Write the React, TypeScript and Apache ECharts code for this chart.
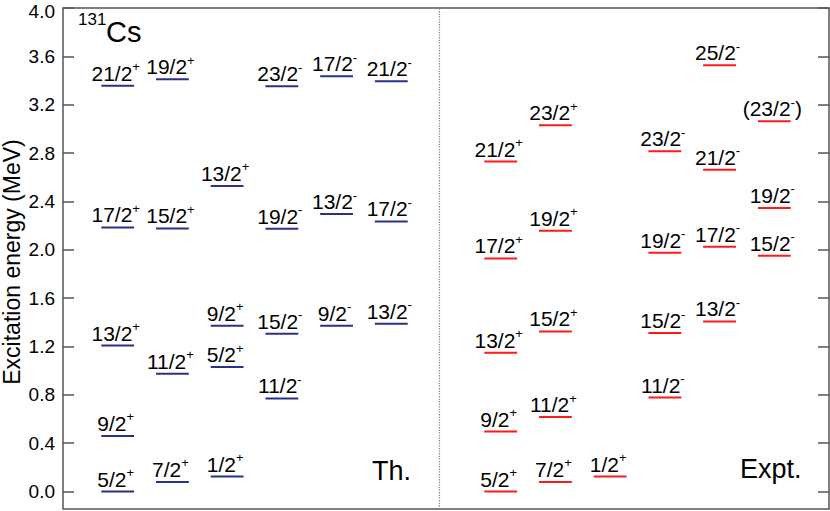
import React, { useEffect, useRef } from "react";
import * as echarts from "echarts";

const FONT = "'Liberation Sans', Arial, Helvetica, sans-serif";

// Theory (Th.) levels: column index, energy (MeV), label
const thColumn = [1, 1, 1, 1, 1, 2, 2, 2, 2, 3, 3, 3, 3, 4, 4, 4, 4, 5, 5, 5, 6, 6, 6];
const thEnergy = [0.0, 0.46, 1.208, 2.185, 3.356, 0.08, 0.974, 2.177, 3.41, 0.124, 1.03, 1.372, 2.528, 0.77, 1.305, 2.175, 3.353, 1.372, 2.296, 3.435, 1.388, 2.235, 3.394];
const thLabel = ["5/2+", "9/2+", "13/2+", "17/2+", "21/2+", "7/2+", "11/2+", "15/2+", "19/2+", "1/2+", "5/2+", "9/2+", "13/2+", "11/2-", "15/2-", "19/2-", "23/2-", "9/2-", "13/2-", "17/2-", "13/2-", "17/2-", "21/2-"];

// Experimental (Expt.) levels
const exColumn = [8, 8, 8, 8, 8, 9, 9, 9, 9, 9, 10, 11, 11, 11, 11, 12, 12, 12, 12, 13, 13, 13];
const exEnergy = [0.0, 0.497, 1.148, 1.929, 2.73, 0.08, 0.616, 1.325, 2.158, 3.03, 0.124, 0.778, 1.311, 1.976, 2.815, 1.407, 2.026, 2.663, 3.527, 1.951, 2.346, 3.063];
const exLabel = ["5/2+", "9/2+", "13/2+", "17/2+", "21/2+", "7/2+", "11/2+", "15/2+", "19/2+", "23/2+", "1/2+", "11/2-", "15/2-", "19/2-", "23/2-", "13/2-", "17/2-", "21/2-", "25/2-", "15/2-", "19/2-", "(23/2-)"];

const yTicks = [0.0, 0.4, 0.8, 1.2, 1.6, 2.0, 2.4, 2.8, 3.2, 3.6, 4.0];
const yTitle = "Excitation energy (MeV)";
const dividerX = 6.88;
const yMin = -0.144;
const yMax = 4.0;

function richLabel(s: string): string {
  const m = s.match(/^(.*?)([+-])(\)?)$/);
  if (!m) return `{n|${s}}`;
  return `{n|${m[1]}}{s|${m[2]}}` + (m[3] ? `{n|${m[3]}}` : "");
}

const rich = {
  n: { fontSize: 21, lineHeight: 26, fontFamily: FONT, fill: "#000", color: "#000" },
  s: { fontSize: 13, lineHeight: 10, verticalAlign: "top", fontFamily: FONT, fill: "#000", color: "#000" },
};

function makeRender(labels: string[], color: string) {
  return (params: any, api: any) => {
    const i = params.dataIndex;
    const p = api.coord([api.value(0), api.value(1)]);
    const hw = api.size([0.3, 0])[0];
    return {
      type: "group",
      children: [
        {
          type: "line",
          shape: { x1: p[0] - hw, y1: p[1], x2: p[0] + hw, y2: p[1] },
          style: { stroke: color, lineWidth: 2 },
        },
        {
          type: "text",
          x: p[0] - 2,
          y: p[1] - 12.5,
          style: {
            text: richLabel(labels[i]),
            rich,
            align: "center",
            verticalAlign: "middle",
            fill: "#000",
          },
        },
      ],
    };
  };
}

export default function App() {
  const ref = useRef<HTMLDivElement>(null);
  useEffect(() => {
    if (!ref.current) return;
    const chart = echarts.init(ref.current, null, { renderer: "svg" });
    const axisCommon = {
      type: "value",
      min: yMin,
      max: yMax,
      axisLine: { show: false },
      splitLine: { show: false },
    };
    chart.setOption({
      animation: false,
      backgroundColor: "#fff",
      grid: {
        left: 63,
        right: 1,
        top: 8,
        bottom: 2,
        show: true,
        borderColor: "#555",
        borderWidth: 1.5,
        containLabel: false,
        outerBoundsMode: "none",
      },
      xAxis: { type: "value", min: 0, max: 14, show: false },
      yAxis: [
        {
          ...axisCommon,
          position: "left",
          axisTick: { show: true, inside: true, length: 11, lineStyle: { color: "#555", width: 1.5 }, customValues: yTicks },
          axisLabel: {
            customValues: yTicks,
            formatter: (v: number) => (v >= 3.99 ? "{t|" + v.toFixed(1) + "}" : v.toFixed(1)),
            rich: { t: { fontSize: 19, color: "#000", fontFamily: FONT, padding: [6, 0, 0, 0] } },
            fontSize: 19,
            color: "#000",
            fontFamily: FONT,
            margin: 8,
          },
        },
        {
          ...axisCommon,
          position: "right",
          axisTick: { show: true, inside: true, length: 11, lineStyle: { color: "#555", width: 1.5 }, customValues: yTicks },
          axisLabel: { show: false },
        },
      ],
      series: [
        {
          type: "line",
          data: [[dividerX, yMin], [dividerX, yMax]],
          showSymbol: false,
          symbol: "none",
          lineStyle: { type: "dotted", color: "#888", width: 1.3 },
          silent: true,
        },
        {
          type: "custom",
          data: thColumn.map((c, i) => [c, thEnergy[i]]),
          renderItem: makeRender(thLabel, "#2b2f8c"),
          silent: true,
        },
        {
          type: "custom",
          data: exColumn.map((c, i) => [c, exEnergy[i]]),
          renderItem: makeRender(exLabel, "#ff1a1a"),
          silent: true,
        },
      ],
      graphic: [
        {
          type: "text",
          x: 12,
          y: 262,
          rotation: Math.PI / 2,
          style: { text: yTitle, fontSize: 23, fontFamily: FONT, fill: "#000", align: "center", verticalAlign: "middle" },
        },
        { type: "text", left: 78, top: 11, style: { text: "131", fontSize: 17, fontFamily: FONT, fill: "#000" } },
        { type: "text", left: 106, top: 17, style: { text: "Cs", fontSize: 29, fontFamily: FONT, fill: "#000" } },
        { type: "text", left: 372, top: 457, style: { text: "Th.", fontSize: 27, fontFamily: FONT, fill: "#000" } },
        { type: "text", left: 740, top: 455, style: { text: "Expt.", fontSize: 27, fontFamily: FONT, fill: "#000" } },
      ],
    });
    return () => chart.dispose();
  }, []);
  return <div ref={ref} style={{ position: "fixed", left: 0, top: 0, width: 830, height: 511 }} />;
}
